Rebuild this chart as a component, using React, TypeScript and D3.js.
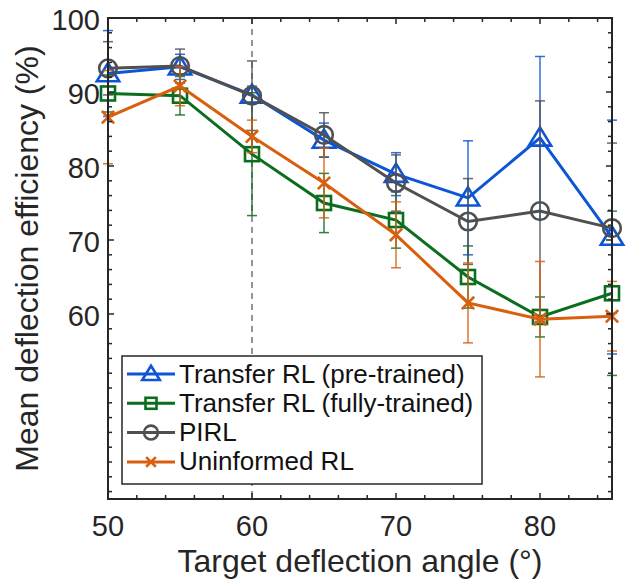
import React, { useEffect, useRef } from 'react';
import * as d3 from 'd3';

const angles = [50, 55, 60, 65, 70, 75, 80, 85];

const pretrainedMean = [92.5, 93.4, 89.6, 83.5, 78.9, 75.7, 83.8, 70.4];
const pretrainedErr = [5.8, 1.7, 1.2, 2.3, 2.9, 7.7, 11.0, 15.8];
const fullyMean = [89.8, 89.5, 81.6, 75.0, 72.7, 65.0, 59.6, 62.8];
const fullyErr = [2.5, 2.6, 8.3, 4.0, 3.8, 4.2, 2.7, 11.1];
const pirlMean = [93.2, 93.5, 89.5, 84.2, 77.7, 72.5, 73.9, 71.6];
const pirlErr = [3.6, 2.3, 4.7, 3.0, 3.8, 5.8, 14.9, 11.5];
const uninformedMean = [86.6, 90.8, 84.0, 77.7, 70.7, 61.5, 59.3, 59.7];
const uninformedErr = [6.3, 2.65, 2.2, 4.7, 4.45, 5.4, 7.8, 4.7];

const xTicks = [50, 60, 70, 80];
const yTicks = [60, 70, 80, 90, 100];

const series = [
  { name: 'Transfer RL (pre-trained)', mean: pretrainedMean, err: pretrainedErr, color: '#0d55d6', marker: 'triangle' },
  { name: 'Transfer RL (fully-trained)', mean: fullyMean, err: fullyErr, color: '#0b6e1f', marker: 'square' },
  { name: 'PIRL', mean: pirlMean, err: pirlErr, color: '#505050', marker: 'circle' },
  { name: 'Uninformed RL', mean: uninformedMean, err: uninformedErr, color: '#d95f0e', marker: 'cross' },
];

const W = 626;
const H = 584;
const margin = { top: 18, right: 14, bottom: 85, left: 108 };
const font = '"Liberation Sans", Arial, Helvetica, sans-serif';
const axisColor = '#262626';

const drawMarker = (g, type, x, y, color, size) => {
  if (type === 'triangle') {
    const s = size;
    g.append('path')
      .attr('d', `M${x},${y - s * 0.75}L${x + s * 0.8},${y + s * 0.55}L${x - s * 0.8},${y + s * 0.55}Z`)
      .attr('fill', 'none').attr('stroke', color).attr('stroke-width', 2.6);
  } else if (type === 'square') {
    const s = size * 0.5;
    g.append('rect').attr('x', x - s).attr('y', y - s).attr('width', 2 * s).attr('height', 2 * s)
      .attr('fill', 'none').attr('stroke', color).attr('stroke-width', 2.6);
  } else if (type === 'circle') {
    g.append('circle').attr('cx', x).attr('cy', y).attr('r', size * 0.63)
      .attr('fill', 'none').attr('stroke', color).attr('stroke-width', 2.6);
  } else {
    const s = size * 0.44;
    g.append('path')
      .attr('d', `M${x - s},${y - s}L${x + s},${y + s}M${x - s},${y + s}L${x + s},${y - s}`)
      .attr('fill', 'none').attr('stroke', color).attr('stroke-width', 2.6);
  }
};

const App = () => {
  const svgRef = useRef(null);

  useEffect(() => {
    const svg = d3.select(svgRef.current);
    svg.selectAll('*').remove();

    const x = d3.scaleLinear().domain([50, 85]).range([margin.left, W - margin.right]);
    const y = d3.scaleLinear().domain([35, 100]).range([H - margin.bottom, margin.top]);
    const [x0, x1] = x.range();
    const [y0, y1] = y.range();

    svg.append('rect').attr('width', W).attr('height', H).attr('fill', '#fff');

    // dashed reference line at 60
    svg.append('line')
      .attr('x1', x(60)).attr('x2', x(60)).attr('y1', y1).attr('y2', y0)
      .attr('stroke', '#8a8a8a').attr('stroke-width', 1.8).attr('stroke-dasharray', '6,5');

    const line = d3.line().x((d) => x(d[0])).y((d) => y(d[1]));

    series.forEach((s) => {
      const g = svg.append('g');
      // error bars
      angles.forEach((a, i) => {
        const lo = y(s.mean[i] - s.err[i]);
        const hi = y(s.mean[i] + s.err[i]);
        const cx = x(a);
        g.append('line').attr('x1', cx).attr('x2', cx).attr('y1', lo).attr('y2', hi)
          .attr('stroke', s.color).attr('stroke-width', 1.5).attr('opacity', 0.85);
        [lo, hi].forEach((yy) => {
          g.append('line').attr('x1', cx - 5).attr('x2', cx + 5).attr('y1', yy).attr('y2', yy)
            .attr('stroke', s.color).attr('stroke-width', 1.5).attr('opacity', 0.85);
        });
      });
      g.append('path')
        .datum(angles.map((a, i) => [a, s.mean[i]]))
        .attr('fill', 'none').attr('stroke', s.color).attr('stroke-width', 3)
        .attr('d', line);
      angles.forEach((a, i) => drawMarker(g, s.marker, x(a), y(s.mean[i]), s.color, 14));
    });

    // axes box with ticks
    const ax = svg.append('g');
    ax.append('rect').attr('x', x0).attr('y', y1).attr('width', x1 - x0).attr('height', y0 - y1)
      .attr('fill', 'none').attr('stroke', axisColor).attr('stroke-width', 2);

    const xMinor = d3.range(52, 85, 2).filter((v) => !xTicks.includes(v));
    const yMinor = d3.range(36, 100, 2).filter((v) => !yTicks.includes(v));

    xTicks.forEach((v) => {
      ax.append('line').attr('x1', x(v)).attr('x2', x(v)).attr('y1', y0).attr('y2', y0 - 6).attr('stroke', axisColor).attr('stroke-width', 1.5);
      ax.append('line').attr('x1', x(v)).attr('x2', x(v)).attr('y1', y1).attr('y2', y1 + 6).attr('stroke', axisColor).attr('stroke-width', 1.5);
      ax.append('text').attr('x', x(v)).attr('y', y0 + 37).attr('text-anchor', 'middle')
        .attr('font-family', font).attr('font-size', 29).attr('fill', axisColor).text(v);
    });
    xMinor.forEach((v) => {
      ax.append('line').attr('x1', x(v)).attr('x2', x(v)).attr('y1', y0).attr('y2', y0 - 4).attr('stroke', axisColor).attr('stroke-width', 1.5);
      ax.append('line').attr('x1', x(v)).attr('x2', x(v)).attr('y1', y1).attr('y2', y1 + 4).attr('stroke', axisColor).attr('stroke-width', 1.5);
    });
    yTicks.forEach((v) => {
      ax.append('line').attr('x1', x0).attr('x2', x0 + 6).attr('y1', y(v)).attr('y2', y(v)).attr('stroke', axisColor).attr('stroke-width', 1.5);
      ax.append('line').attr('x1', x1).attr('x2', x1 - 6).attr('y1', y(v)).attr('y2', y(v)).attr('stroke', axisColor).attr('stroke-width', 1.5);
      ax.append('text').attr('x', x0 - 8).attr('y', y(v) + 11.5).attr('text-anchor', 'end')
        .attr('font-family', font).attr('font-size', 29).attr('fill', axisColor).text(v);
    });
    yMinor.forEach((v) => {
      ax.append('line').attr('x1', x0).attr('x2', x0 + 4).attr('y1', y(v)).attr('y2', y(v)).attr('stroke', axisColor).attr('stroke-width', 1.5);
      ax.append('line').attr('x1', x1).attr('x2', x1 - 4).attr('y1', y(v)).attr('y2', y(v)).attr('stroke', axisColor).attr('stroke-width', 1.5);
    });

    // axis labels
    svg.append('text').attr('x', (x0 + x1) / 2).attr('y', 572).attr('text-anchor', 'middle')
      .attr('font-family', font).attr('font-size', 32).attr('fill', axisColor)
      .text('Target deflection angle (°)');
    svg.append('text').attr('transform', `translate(37.5,${(y0 + y1) / 2}) rotate(-90)`)
      .attr('text-anchor', 'middle')
      .attr('font-family', font).attr('font-size', 32).attr('fill', axisColor)
      .text('Mean deflection efficiency (%)');

    // legend
    const lg = svg.append('g');
    lg.append('rect').attr('x', 122).attr('y', 356).attr('width', 360).attr('height', 128)
      .attr('fill', '#fff').attr('stroke', axisColor).attr('stroke-width', 1.5);
    series.forEach((s, i) => {
      const ly = 374 + i * 29.3;
      lg.append('line').attr('x1', 127).attr('x2', 175).attr('y1', ly).attr('y2', ly)
        .attr('stroke', s.color).attr('stroke-width', 3);
      drawMarker(lg, s.marker, 151, ly, s.color, 11);
      lg.append('text').attr('x', 179).attr('y', ly + 8.5)
        .attr('font-family', font).attr('font-size', 26).attr('fill', '#111')
        .text(s.name);
    });
  }, []);

  return (
    <svg ref={svgRef} width={W} height={H} style={{ position: 'absolute', left: 0, top: 0 }} />
  );
};

export default App;
